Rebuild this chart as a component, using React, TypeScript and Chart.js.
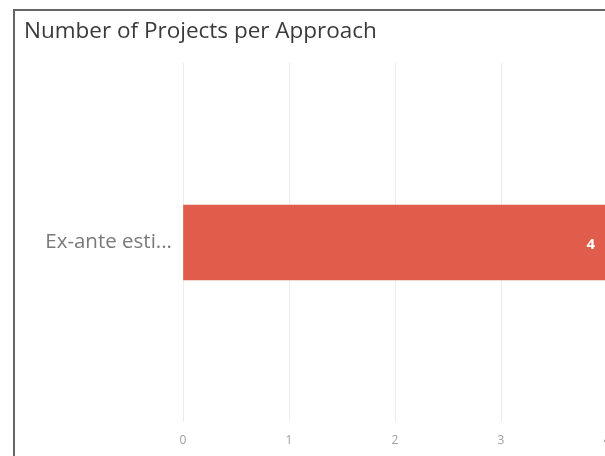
import React, { useEffect, useRef } from "react";
import { Chart, registerables } from "chart.js";

Chart.register(...registerables);

const TITLE = "Number of Projects per Approach";
const categories = ["Ex-ante estimation"];
const projectCounts = [4];
const xTicks = [0, 1, 2, 3, 4];

const BAR_COLOR = "#E05D4C";
const FONT = "'Open Sans', 'Noto Sans', sans-serif";

const valueLabelPlugin = {
  id: "valueLabels",
  afterDatasetsDraw(chart: any) {
    const ctx = chart.ctx;
    const meta = chart.getDatasetMeta(0);
    ctx.save();
    ctx.fillStyle = "#ffffff";
    ctx.font = `bold 15px ${FONT}`;
    ctx.textAlign = "right";
    ctx.textBaseline = "middle";
    meta.data.forEach((bar: any, i: number) => {
      ctx.fillText(String(projectCounts[i]), bar.x - 12, bar.y + 2);
    });
    ctx.restore();
  },
};

export default function App() {
  const ref = useRef<HTMLCanvasElement>(null);

  useEffect(() => {
    if (!ref.current) return;
    const chart = new Chart(ref.current, {
      type: "bar",
      data: {
        labels: categories,
        datasets: [
          {
            data: projectCounts,
            backgroundColor: BAR_COLOR,
            borderWidth: 0,
            barThickness: 75,
          },
        ],
      },
      options: {
        indexAxis: "y",
        animation: false,
        responsive: false,
        maintainAspectRatio: false,
        layout: { padding: { left: 24, right: 33, top: 0, bottom: 0 } },
        plugins: {
          legend: { display: false },
          tooltip: { enabled: false },
          title: {
            display: true,
            text: TITLE,
            align: "start",
            color: "#3a3a3a",
            font: { family: FONT, size: 22.5, weight: "normal", lineHeight: 1.2 },
            padding: { top: 18, bottom: 18 },
          },
        },
        scales: {
          x: {
            min: 0,
            max: 4,
            afterBuildTicks(scale: any) {
              scale.ticks = xTicks.map((v) => ({ value: v }));
            },
            afterFit(scale: any) {
              scale.height = 34;
            },
            border: { display: false },
            grid: { color: "#ececec", drawTicks: false, lineWidth: 1 },
            ticks: {
              color: "#a0a0a0",
              padding: 11,
              font: { family: FONT, size: 12 },
              maxRotation: 0,
            },
          },
          y: {
            afterFit(scale: any) {
              scale.width = 183 - 24;
            },
            border: { display: false },
            grid: { display: false, drawTicks: false },
            ticks: {
              color: "#7a7a7a",
              padding: 11,
              font: { family: FONT, size: 20.5 },
              callback(value: any) {
                const s = categories[value as number] ?? String(value);
                return s.length > 12 ? s.slice(0, 12) + "..." : s;
              },
            },
          },
        },
      },
      plugins: [valueLabelPlugin],
    });
    return () => chart.destroy();
  }, []);

  return (
    <div
      style={{
        position: "fixed",
        left: 0,
        top: 0,
        width: 605,
        height: 456,
        overflow: "hidden",
        background: "#ffffff",
      }}
    >
      <canvas
        ref={ref}
        width={640}
        height={456}
        style={{ position: "absolute", left: 0, top: 0, width: 640, height: 456 }}
      />
      <div
        style={{
          position: "absolute",
          left: 13,
          top: 9,
          width: 700,
          height: 600,
          border: "2px solid #666666",
          boxSizing: "border-box",
          pointerEvents: "none",
        }}
      />
    </div>
  );
}
